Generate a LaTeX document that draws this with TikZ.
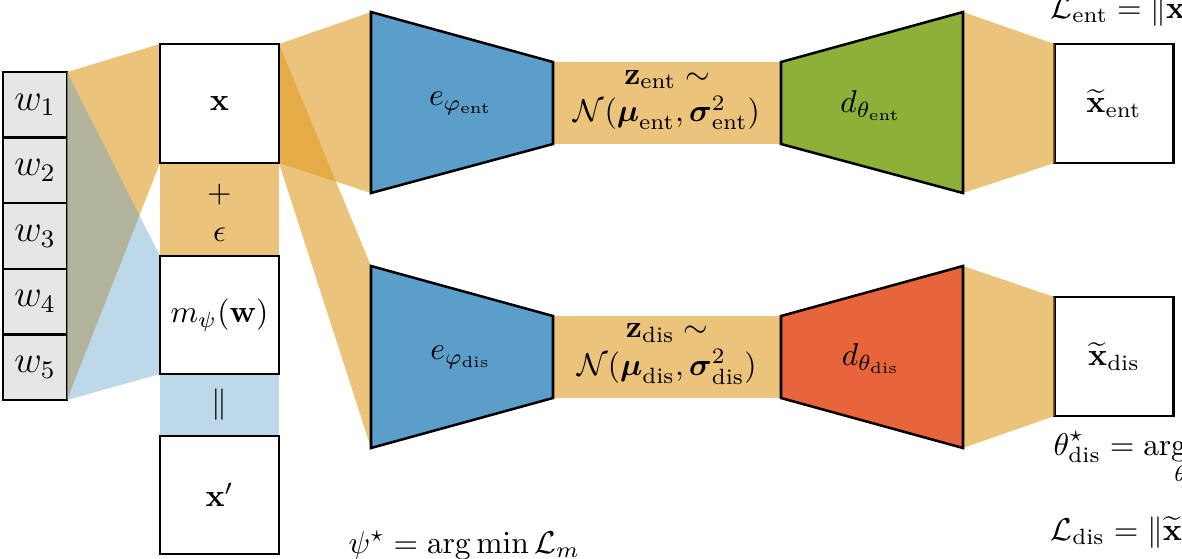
\documentclass[tikz,border=0pt]{standalone}
\usepackage{amsmath,amssymb}
\definecolor{encblue}{RGB}{91,158,201}
\definecolor{decgreen}{RGB}{141,176,56}
\definecolor{decred}{RGB}{232,100,58}
\definecolor{fun}{RGB}{223,155,35}
\definecolor{wgray}{RGB}{230,230,230}
\tikzset{
  funnel/.style={fill=fun, fill opacity=0.6, draw=none},
  bfunnel/.style={fill=encblue, fill opacity=0.4, draw=none},
  sqbox/.style={draw, line width=0.8pt, fill=white, outer sep=0pt, inner sep=0pt,
    minimum width=119*0.317pt, minimum height=119*0.317pt},
  wbox/.style={draw, line width=0.8pt, fill=wgray, outer sep=0pt, inner sep=0pt,
    minimum width=64*0.317pt, minimum height=65.6*0.317pt, font=\large},
  trap/.style={draw, line width=0.8pt, line join=miter},
  lbl/.style={inner sep=0pt}
}
\begin{document}
\begin{tikzpicture}[x=0.317pt, y=-0.317pt]
\useasboundingbox (0,0) rectangle (1182,558);

% input words
\node[wbox] (w1) at (35,104.8) {$w_1$};
\node[wbox] (w2) at (35,170.4) {$w_2$};
\node[wbox] (w3) at (35,236.0) {$w_3$};
\node[wbox] (w4) at (35,301.6) {$w_4$};
\node[wbox] (w5) at (35,367.2) {$w_5$};

% coordinates of boxes (drawn later)
\coordinate (xNW) at (160,44);   \coordinate (xNE) at (279,44);
\coordinate (xSW) at (160,163);  \coordinate (xSE) at (279,163);
\coordinate (mNW) at (160,256);  \coordinate (mNE) at (279,256);
\coordinate (mSW) at (160,374);  \coordinate (mSE) at (279,374);
\coordinate (pNW) at (160,436);  \coordinate (pNE) at (279,436);

% encoder / decoder corners
\coordinate (eA1) at (371,12);  \coordinate (eA2) at (553,62);
\coordinate (eA3) at (553,144); \coordinate (eA4) at (371,193);
\coordinate (dA1) at (781,62);  \coordinate (dA2) at (963,12);
\coordinate (dA3) at (963,193); \coordinate (dA4) at (781,144);
\coordinate (eB1) at (371,266); \coordinate (eB2) at (553,316);
\coordinate (eB3) at (553,398); \coordinate (eB4) at (371,448);
\coordinate (dB1) at (781,316); \coordinate (dB2) at (963,266);
\coordinate (dB3) at (963,448); \coordinate (dB4) at (781,398);

% funnels
\fill[funnel] (w1.north east) -- (xNW) -- (xSW) -- (w5.south east) -- cycle;
\fill[bfunnel] (w1.north east) -- (mNW) -- (mSW) -- (w5.south east) -- cycle;
\fill[funnel] (xSW) rectangle (mNE);
\fill[bfunnel] (mSW) rectangle (pNE);
\fill[funnel] (xNE) -- (eA1) -- (eA4) -- (xSE) -- cycle;
\fill[funnel] (xNE) -- (eB1) -- (eB4) -- (xSE) -- cycle;
\fill[funnel] (eA2) rectangle (dA4);
\fill[funnel] (eB2) rectangle (dB4);

% output boxes
\node[sqbox] (xent) at (1114,103.5) {$\widetilde{\mathbf{x}}_{\text{ent}}$};
\node[sqbox] (xdis) at (1114,356.5) {$\widetilde{\mathbf{x}}_{\text{dis}}$};
\fill[funnel] (dA2) -- (xent.north west) -- (xent.south west) -- (dA3) -- cycle;
\fill[funnel] (dB2) -- (xdis.north west) -- (xdis.south west) -- (dB3) -- cycle;

% boxes
\node[sqbox] (x) at (219.5,103.5) {$\mathbf{x}$};
\node[sqbox, minimum height=118*0.317pt] (m) at (219.5,315) {$m_\psi(\mathbf{w})$};
\node[sqbox, minimum height=118*0.317pt] (xp) at (219.5,495) {$\mathbf{x}'$};
\node[lbl] (plus) at (219.5,195) {$+$};
\node[lbl] (eps) at (219.5,235) {$\epsilon$};
\node[lbl] (eq) at (219.5,405) {$\|$};

% encoders and decoders
\draw[trap, fill=encblue] (eA1) -- (eA2) -- (eA3) -- (eA4) -- cycle;
\draw[trap, fill=decgreen] (dA1) -- (dA2) -- (dA3) -- (dA4) -- cycle;
\draw[trap, fill=encblue] (eB1) -- (eB2) -- (eB3) -- (eB4) -- cycle;
\draw[trap, fill=decred] (dB1) -- (dB2) -- (dB3) -- (dB4) -- cycle;
\node (eent) at (461,103) {$e_{\varphi_{\text{ent}}}$};
\node (dent) at (871,106) {$d_{\theta_{\text{ent}}}$};
\node (edis) at (461,357) {$e_{\varphi_{\text{dis}}}$};
\node (ddis) at (871,359) {$d_{\theta_{\text{dis}}}$};

% latent
\node[align=center] (zent) at (667,100) {$\mathbf{z}_{\text{ent}}\sim$\\$\mathcal{N}(\boldsymbol{\mu}_{\text{ent}},\boldsymbol{\sigma}^2_{\text{ent}})$};
\node[align=center] (zdis) at (667,354) {$\mathbf{z}_{\text{dis}}\sim$\\$\mathcal{N}(\boldsymbol{\mu}_{\text{dis}},\boldsymbol{\sigma}^2_{\text{dis}})$};

% losses
\node[anchor=base west, inner sep=0pt] (lent) at (1050,18) {$\mathcal{L}_{\text{ent}} = \|\mathbf{x} - \widetilde{\mathbf{x}}_{\text{ent}}\|^2$};
\node[anchor=base west, inner sep=0pt] (tdis) at (1053,455) {$\displaystyle\theta^\star_{\text{dis}} = \operatorname*{arg\,min}_{\theta_{\text{dis}}} \mathcal{L}_{\text{dis}}$};
\node[anchor=base west, inner sep=0pt] (ldis) at (1050,540) {$\mathcal{L}_{\text{dis}} = \|\widetilde{\mathbf{x}}_{\text{dis}} - \mathbf{x}'\|^2$};
\node[anchor=base west, inner sep=0pt] (psi) at (348,553) {$\psi^\star = \arg\min \mathcal{L}_m$};
\end{tikzpicture}
\end{document}
